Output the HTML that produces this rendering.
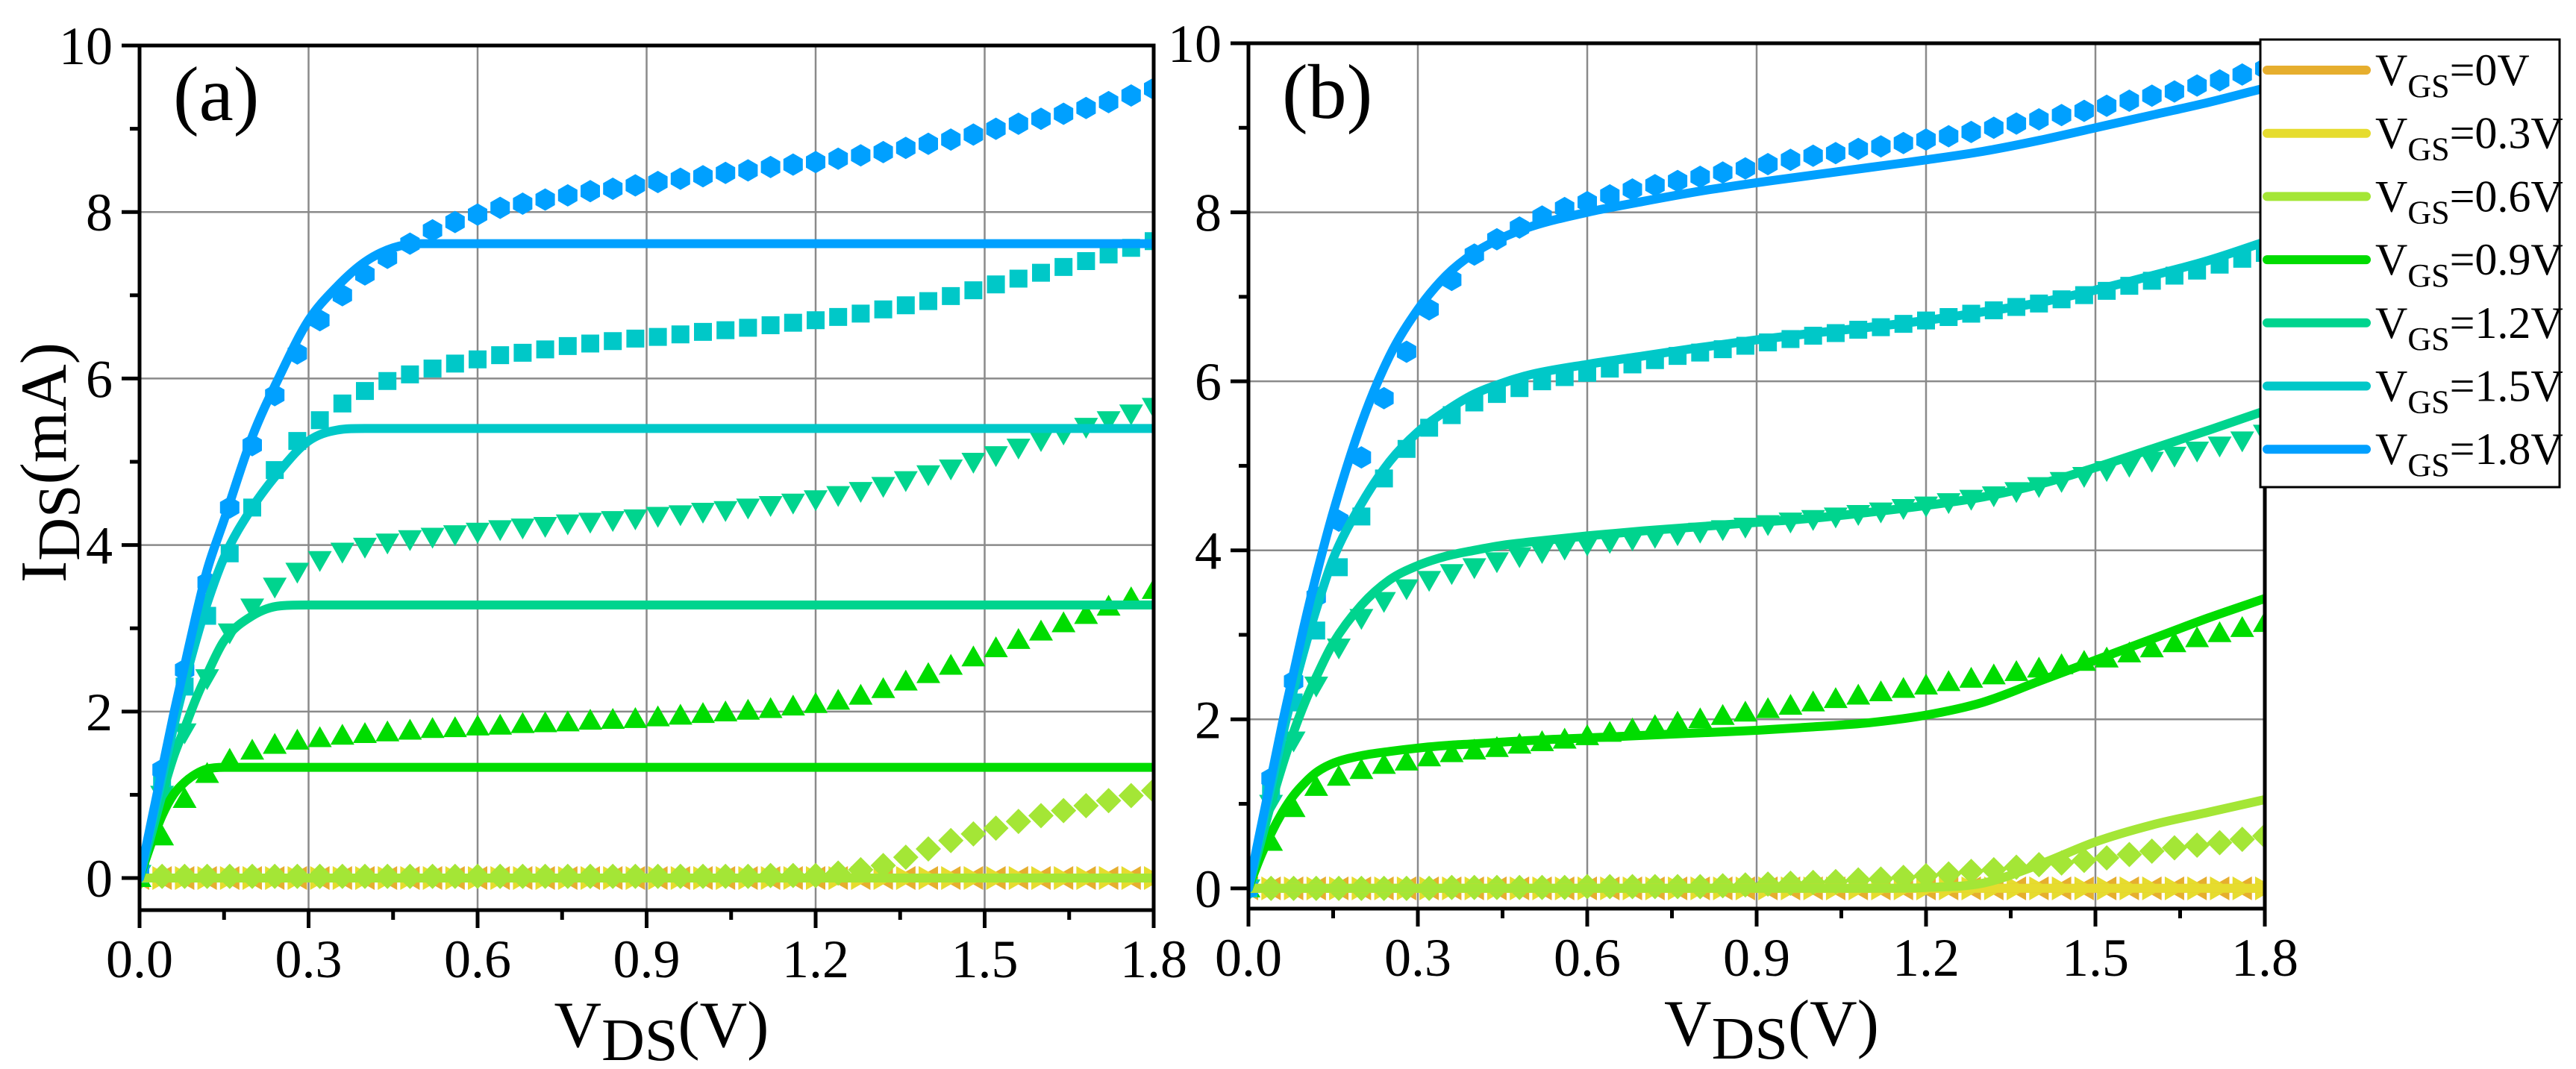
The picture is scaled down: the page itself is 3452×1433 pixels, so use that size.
<!DOCTYPE html>
<html><head><meta charset="utf-8"><style>
html,body{margin:0;padding:0;background:#fff;}
svg, svg text{font-family:"Liberation Serif","Times New Roman",serif;}
svg{display:block;}
</style></head><body>
<svg id="fig" width="3452" height="1433" viewBox="0 0 3452 1433" xmlns="http://www.w3.org/2000/svg" font-family="Liberation Serif, Times New Roman, serif">
<defs>
<clipPath id="clipA"><rect x="187" y="61" width="1359" height="1159"/></clipPath>
<clipPath id="clipB"><rect x="1673" y="58" width="1362" height="1160"/></clipPath>
</defs>
<g id="panelA"></g>
<g id="panelB"></g>
<g id="legend"></g>
</svg>
<script>
// ---- data ----
const vgsLabels = ["0V","0.3V","0.6V","0.9V","1.2V","1.5V","1.8V"];
const colors = ["#E6AE2E","#E6DC2E","#A4E636","#00DC00","#00D48E","#00C8C8","#00A0FF"];
const markerX = [0,0.04,0.08,0.12,0.16,0.2,0.24,0.28,0.32,0.36,0.4,0.44,0.48,0.52,0.56,0.6,0.64,0.68,0.72,0.76,0.8,0.84,0.88,0.92,0.96,1.0,1.04,1.08,1.12,1.16,1.2,1.24,1.28,1.32,1.36,1.4,1.44,1.48,1.52,1.56,1.6,1.64,1.68,1.72,1.76,1.8];
const lineX = [0,0.02,0.04,0.06,0.08,0.1,0.12,0.15,0.2,0.25,0.3,0.35,0.4,0.45,0.5,0.6,0.7,0.8,0.9,1.0,1.1,1.2,1.3,1.4,1.5,1.6,1.7,1.8];
const xTicks = ["0.0","0.3","0.6","0.9","1.2","1.5","1.8"];
const yTicks = ["0","2","4","6","8","10"];

// panel a measured
const aM00 = [0,0,0,0,0,0,0,0,0,0,0,0,0,0,0,0,0,0,0,0,0,0,0,0,0,0,0,0,0,0,0,0,0,0,0,0,0,0,0,0,0,0,0,0,0,0];
const aM03 = [0,0,0,0,0,0,0,0,0,0,0,0,0,0,0,0,0,0,0,0,0,0,0,0,0,0,0,0,0,0,0,0,0,0,0,0,0,0,0,0,0,0,0,0,0,0];
const aM06 = [0,0.02,0.02,0.02,0.02,0.02,0.02,0.02,0.02,0.02,0.02,0.02,0.02,0.02,0.02,0.02,0.02,0.02,0.02,0.02,0.02,0.02,0.02,0.02,0.02,0.02,0.02,0.02,0.03,0.03,0.03,0.06,0.1,0.15,0.25,0.35,0.45,0.53,0.6,0.68,0.75,0.81,0.87,0.93,0.99,1.05];
const aM09 = [0,0.5,0.95,1.25,1.42,1.53,1.6,1.65,1.68,1.71,1.73,1.75,1.77,1.79,1.8,1.82,1.83,1.85,1.86,1.87,1.89,1.9,1.91,1.93,1.95,1.97,1.99,2.01,2.03,2.06,2.09,2.13,2.19,2.27,2.36,2.45,2.55,2.65,2.76,2.86,2.96,3.06,3.16,3.26,3.36,3.46];
const aM12 = [0.05,1.0,1.75,2.4,2.95,3.25,3.5,3.68,3.82,3.92,3.98,4.03,4.07,4.1,4.13,4.16,4.19,4.21,4.23,4.26,4.28,4.3,4.32,4.35,4.37,4.4,4.42,4.45,4.48,4.51,4.55,4.6,4.65,4.71,4.78,4.85,4.92,5.0,5.08,5.17,5.26,5.34,5.42,5.5,5.58,5.66];
const aM15 = [0.05,1.2,2.3,3.15,3.9,4.45,4.9,5.25,5.5,5.7,5.85,5.97,6.05,6.12,6.18,6.23,6.28,6.31,6.35,6.39,6.42,6.45,6.48,6.5,6.53,6.56,6.58,6.61,6.64,6.67,6.7,6.74,6.78,6.83,6.88,6.93,6.99,7.06,7.13,7.2,7.27,7.34,7.41,7.49,7.57,7.65];
const aM18 = [0.1,1.3,2.5,3.55,4.45,5.2,5.8,6.3,6.7,7.0,7.25,7.45,7.62,7.78,7.88,7.97,8.05,8.1,8.15,8.2,8.25,8.28,8.32,8.36,8.4,8.43,8.47,8.5,8.54,8.57,8.6,8.64,8.68,8.72,8.77,8.82,8.87,8.93,9.0,9.06,9.12,9.18,9.25,9.32,9.4,9.48];
// panel a model
const aL00 = [0,0,0,0,0,0,0,0,0,0,0,0,0,0,0,0,0,0,0,0,0,0,0,0,0,0,0,0];
const aL03 = [0,0,0,0,0,0,0,0,0,0,0,0,0,0,0,0,0,0,0,0,0,0,0,0,0,0,0,0];
const aL06 = [0,0,0,0,0,0,0,0,0,0,0,0,0,0,0,0,0,0,0,0,0,0,0,0,0,0,0,0];
const aL09 = [0,0.4,0.75,1.0,1.15,1.25,1.31,1.33,1.33,1.33,1.33,1.33,1.33,1.33,1.33,1.33,1.33,1.33,1.33,1.33,1.33,1.33,1.33,1.33,1.33,1.33,1.33,1.33];
const aL12 = [0,0.5,1.0,1.45,1.8,2.15,2.45,2.85,3.15,3.27,3.28,3.28,3.28,3.28,3.28,3.28,3.28,3.28,3.28,3.28,3.28,3.28,3.28,3.28,3.28,3.28,3.28,3.28];
const aL15 = [0,0.6,1.2,1.8,2.35,2.85,3.3,3.85,4.45,4.9,5.25,5.38,5.4,5.4,5.4,5.4,5.4,5.4,5.4,5.4,5.4,5.4,5.4,5.4,5.4,5.4,5.4,5.4];
const aL18 = [0,0.65,1.3,1.95,2.55,3.15,3.7,4.3,5.3,6.05,6.7,7.1,7.4,7.57,7.62,7.62,7.62,7.62,7.62,7.62,7.62,7.62,7.62,7.62,7.62,7.62,7.62,7.62];
// panel b measured
const bM00 = [0,0,0,0,0,0,0,0,0,0,0,0,0,0,0,0,0,0,0,0,0,0,0,0,0,0,0,0,0,0,0,0,0,0,0,0,0,0,0,0,0,0,0,0,0,0];
const bM03 = [0,0,0,0,0,0,0,0,0,0,0,0,0,0,0,0,0,0,0,0,0,0,0,0,0,0,0,0,0,0,0,0,0,0,0,0,0,0,0,0,0,0,0,0,0,0];
const bM06 = [0,0,0,0,0,0,0,0,0,0.01,0.01,0.01,0.01,0.01,0.01,0.02,0.02,0.02,0.02,0.02,0.02,0.03,0.04,0.05,0.06,0.07,0.08,0.1,0.11,0.13,0.15,0.17,0.2,0.22,0.25,0.28,0.3,0.33,0.36,0.4,0.44,0.48,0.51,0.54,0.58,0.62];
const bM09 = [0,0.55,0.95,1.2,1.32,1.4,1.46,1.5,1.55,1.6,1.63,1.66,1.7,1.73,1.76,1.8,1.84,1.88,1.92,1.96,2.0,2.04,2.08,2.12,2.16,2.2,2.24,2.28,2.32,2.36,2.4,2.44,2.48,2.52,2.56,2.6,2.64,2.68,2.72,2.78,2.84,2.9,2.96,3.02,3.08,3.14];
const bM12 = [0,1.0,1.75,2.4,2.85,3.2,3.4,3.55,3.65,3.73,3.8,3.87,3.93,3.98,4.02,4.07,4.1,4.13,4.16,4.19,4.22,4.25,4.28,4.31,4.34,4.37,4.4,4.43,4.46,4.5,4.53,4.57,4.61,4.65,4.7,4.76,4.82,4.88,4.95,5.0,5.06,5.12,5.18,5.24,5.3,5.38];
const bM15 = [0,1.15,2.2,3.05,3.8,4.4,4.85,5.2,5.45,5.6,5.75,5.85,5.92,6.0,6.05,6.1,6.15,6.2,6.25,6.3,6.34,6.38,6.42,6.46,6.5,6.54,6.57,6.61,6.64,6.68,6.72,6.76,6.8,6.84,6.88,6.92,6.97,7.02,7.07,7.13,7.19,7.25,7.31,7.38,7.45,7.52];
const bM18 = [0,1.3,2.45,3.45,4.35,5.1,5.8,6.35,6.85,7.2,7.5,7.68,7.82,7.95,8.05,8.12,8.2,8.27,8.32,8.37,8.42,8.47,8.52,8.57,8.62,8.67,8.7,8.75,8.78,8.82,8.86,8.9,8.95,9.0,9.05,9.1,9.15,9.2,9.26,9.32,9.38,9.43,9.5,9.56,9.63,9.7];
// panel b model
const bL00 = [0,0,0,0,0,0,0,0,0,0,0,0,0,0,0,0,0,0,0,0,0,0,0,0,0,0,0,0];
const bL03 = [0,0,0,0,0,0,0,0,0,0,0,0,0,0,0,0,0,0,0,0,0,0,0,0,0,0,0,0];
const bL06 = [0,0,0,0,0,0,0,0,0,0,0,0,0,0,0,0,0,0,0,0,0,0.01,0.06,0.28,0.55,0.75,0.9,1.05];
const bL09 = [0,0.35,0.65,0.9,1.1,1.25,1.37,1.48,1.57,1.62,1.66,1.69,1.71,1.73,1.75,1.78,1.81,1.84,1.87,1.91,1.96,2.05,2.2,2.45,2.7,2.95,3.2,3.43];
const bL12 = [0,0.5,1.0,1.45,1.85,2.2,2.5,2.9,3.35,3.65,3.82,3.93,4.0,4.06,4.1,4.17,4.23,4.28,4.33,4.38,4.45,4.53,4.63,4.78,4.98,5.2,5.42,5.65];
const bL15 = [0,0.6,1.2,1.8,2.35,2.85,3.3,3.9,4.55,5.05,5.4,5.65,5.85,5.98,6.08,6.2,6.3,6.4,6.49,6.57,6.64,6.72,6.82,6.93,7.08,7.25,7.43,7.65];
const bL18 = [0,0.65,1.3,1.95,2.55,3.15,3.7,4.45,5.5,6.3,6.85,7.25,7.52,7.7,7.83,8.0,8.13,8.25,8.35,8.44,8.53,8.62,8.72,8.85,9.0,9.15,9.3,9.47];

const NS = "http://www.w3.org/2000/svg";
const FF = "Liberation Serif, Times New Roman, serif";
function mk(tag, attrs, parent){ const e=document.createElementNS(NS,tag); for(const k in attrs) e.setAttribute(k,attrs[k]); parent.appendChild(e); return e; }

function markerPath(kind, cx, cy){
  const r=15;
  if(kind==="hex"){ let p=[]; for(let i=0;i<6;i++){const a=Math.PI/3*i+Math.PI/6; p.push((cx+r*Math.cos(a)).toFixed(1)+","+(cy+r*Math.sin(a)).toFixed(1));} return "M"+p.join("L")+"Z"; }
  if(kind==="sq"){ const s=12; return `M${cx-s},${cy-s}H${cx+s}V${cy+s}H${cx-s}Z`; }
  if(kind==="dn"){ return `M${cx-16},${cy-12}H${cx+16}L${cx},${cy+16}Z`; }
  if(kind==="up"){ return `M${cx-16},${cy+12}H${cx+16}L${cx},${cy-16}Z`; }
  if(kind==="dia"){ return `M${cx},${cy-17}L${cx+17},${cy}L${cx},${cy+17}L${cx-17},${cy}Z`; }
  if(kind==="rt"){ return `M${cx-13},${cy-16}L${cx+15},${cy}L${cx-13},${cy+16}Z`; }
  if(kind==="lt"){ return `M${cx+13},${cy-16}L${cx-15},${cy}L${cx+13},${cy+16}Z`; }
}
const kinds=["lt","rt","dia","up","dn","sq","hex"];

// monotone cubic path through points
function smoothPath(pts){
  const n=pts.length; if(n<2) return "";
  const dx=[],m=[],t=[];
  for(let i=0;i<n-1;i++){dx[i]=pts[i+1][0]-pts[i][0]; m[i]=(pts[i+1][1]-pts[i][1])/dx[i];}
  t[0]=m[0]; t[n-1]=m[n-2];
  for(let i=1;i<n-1;i++){ t[i]=(m[i-1]*m[i]<=0)?0:(m[i-1]+m[i])/2; }
  for(let i=0;i<n-1;i++){ if(m[i]===0){t[i]=0;t[i+1]=0;continue;} const a=t[i]/m[i],b=t[i+1]/m[i],h=a*a+b*b; if(h>9){const s=3/Math.sqrt(h);t[i]=s*a*m[i];t[i+1]=s*b*m[i];} }
  let d="M"+pts[0][0].toFixed(1)+","+pts[0][1].toFixed(1);
  for(let i=0;i<n-1;i++){ const h=dx[i]/3;
    d+="C"+(pts[i][0]+h).toFixed(1)+","+(pts[i][1]+t[i]*h).toFixed(1)+" "+(pts[i+1][0]-h).toFixed(1)+","+(pts[i+1][1]-t[i+1]*h).toFixed(1)+" "+pts[i+1][0].toFixed(1)+","+pts[i+1][1].toFixed(1); }
  return d;
}

function drawPanel(g, P, measured, lines, clipId, label){
  const X=v=>P.x0+(v-0)/1.8*(P.x1-P.x0);
  const Y=v=>P.y0-(v-P.ymin)/(10-P.ymin)*(P.y0-P.y1);
  xTicks.forEach((t,i)=>{ const v=parseFloat(t); if(i>0&&i<xTicks.length-1){ const l=mk("line",{x1:X(v),x2:X(v),y1:P.y1,y2:P.y0,stroke:"#8a8a8a","stroke-width":2.5},g);
      } });
  yTicks.forEach((t,i)=>{ const v=parseFloat(t); if(i<yTicks.length-1){ const l=mk("line",{x1:P.x0,x2:P.x1,y1:Y(v),y2:Y(v),stroke:"#8a8a8a","stroke-width":2.5},g);
      } });
  const data=mk("g",{"clip-path":`url(#${clipId})`},g);
  
  
  for(let s=0;s<7;s++){
    const mg=mk("g",{fill:colors[s]},data);
    
    
    const m=measured[s];
    for(let i=0;i<Math.min(m.length,markerX.length);i++){
      const p=mk("path",{d:markerPath(kinds[s],X(markerX[i]),Y(m[i]))},mg);
      
      
    }
  }
  for(let s=0;s<7;s++){
    const L=lines[s]; const pts=[];
    for(let i=0;i<Math.min(L.length,lineX.length);i++) pts.push([X(lineX[i]),Y(L[i])]);
    const pl=mk("path",{d:smoothPath(pts),fill:"none",stroke:colors[s],"stroke-width":12,"stroke-linejoin":"round","stroke-linecap":"round"},data);
    
    
  }
  const fr=mk("rect",{x:P.x0,y:P.y1,width:P.x1-P.x0,height:P.y0-P.y1,fill:"none",stroke:"#000","stroke-width":5},g);
   
  xTicks.forEach((t,i)=>{ const v=parseFloat(t);
    mk("line",{x1:X(v),x2:X(v),y1:P.y0,y2:P.y0+24,stroke:"#000","stroke-width":5},g);
    if(i<xTicks.length-1) mk("line",{x1:X(v+0.15),x2:X(v+0.15),y1:P.y0,y2:P.y0+13,stroke:"#000","stroke-width":5},g);
    const tx=mk("text",{x:X(v),y:P.y0+90,"text-anchor":"middle","font-size":72,"font-family":FF},g); tx.textContent=t;
      });
  yTicks.forEach((t,i)=>{ const v=parseFloat(t);
    mk("line",{x1:P.x0-24,x2:P.x0,y1:Y(v),y2:Y(v),stroke:"#000","stroke-width":5},g);
    if(i<yTicks.length-1) mk("line",{x1:P.x0-13,x2:P.x0,y1:Y(v+1),y2:Y(v+1),stroke:"#000","stroke-width":5},g);
    const tx=mk("text",{x:P.x0-36,y:Y(v)+25,"text-anchor":"end","font-size":72,"font-family":FF},g); tx.textContent=t;
      });
  const xt=mk("text",{x:(P.x0+P.x1)/2+20,y:P.y0+183,"text-anchor":"middle","font-size":88,"font-family":FF},g);
  xt.innerHTML='V<tspan font-size="80" dy="18">DS</tspan><tspan dy="-18">(V)</tspan>';
   
  const pl=mk("text",{x:P.x0+45,y:P.y1+100,"font-size":104,"font-family":FF},g); pl.textContent=label;
   
}

const PA={x0:187,x1:1546,y1:61,y0:1220,ymin:-0.385};
const PB={x0:1673,x1:3035,y1:58,y0:1218,ymin:-0.24};
drawPanel(document.getElementById("panelA"),PA,[aM00,aM03,aM06,aM09,aM12,aM15,aM18],[aL00,aL03,aL06,aL09,aL12,aL15,aL18],"clipA","(a)");
drawPanel(document.getElementById("panelB"),PB,[bM00,bM03,bM06,bM09,bM12,bM15,bM18],[bL00,bL03,bL06,bL09,bL12,bL15,bL18],"clipB","(b)");

const yt=mk("text",{transform:"translate(88,620) rotate(-90)","text-anchor":"middle","font-size":88,"font-family":FF},document.getElementById("panelA"));
yt.innerHTML='I<tspan font-size="80" dy="18">DS</tspan><tspan dy="-18">(mA)</tspan>';



const lg=document.getElementById("legend");
const box=mk("rect",{x:3029,y:53,width:401,height:600,fill:"#fff",stroke:"#000","stroke-width":3},lg);


for(let s=0;s<7;s++){
  const cy=94+s*84.7;
  const e=mk("g",{},lg);
  
  
  mk("line",{x1:3038,x2:3171,y1:cy,y2:cy,stroke:colors[s],"stroke-width":12,"stroke-linecap":"round"},e);
  const t=mk("text",{x:3183,y:cy+20,"font-size":60,"font-family":FF},e);
  t.innerHTML='V<tspan font-size="44" dy="16">GS</tspan><tspan dy="-16">='+vgsLabels[s]+'</tspan>';
}
</script>
</body></html>
